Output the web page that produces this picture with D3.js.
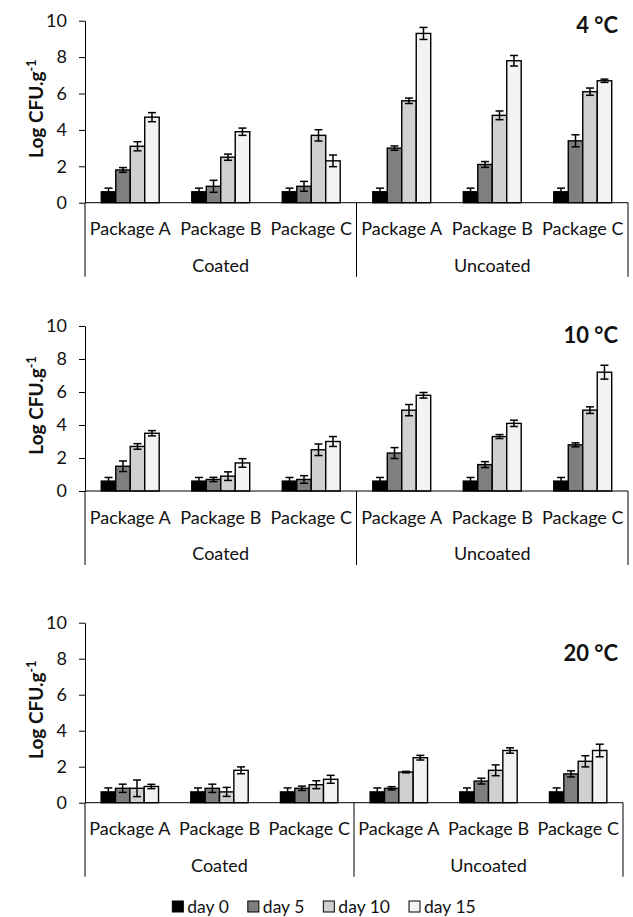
<!DOCTYPE html>
<html>
<head>
<meta charset="utf-8">
<script src="https://cdn.jsdelivr.net/npm/d3@7"></script>
<style>
  html, body { margin: 0; padding: 0; background: #fff; }
  svg { display: block; font-family: Lato, "Open Sans", sans-serif; }
</style>
</head>
<body>
<svg id="chart" width="633" height="917"></svg>
<script>
// ---------- data ----------
const temperatures = ["4 °C", "10 °C", "20 °C"];
const conditions = ["Coated", "Uncoated"];
const packages = ["Package A", "Package B", "Package C"];
const days = ["day 0", "day 5", "day 10", "day 15"];
const yTicks = [0, 2, 4, 6, 8, 10];

// rows: Coated A, B, C, Uncoated A, B, C ; columns: day 0, 5, 10, 15
const mean4C = [
  [0.6, 1.8, 3.1, 4.7],
  [0.6, 0.9, 2.5, 3.9],
  [0.6, 0.9, 3.7, 2.3],
  [0.6, 3.0, 5.6, 9.3],
  [0.6, 2.1, 4.8, 7.8],
  [0.6, 3.4, 6.1, 6.7]
];
const err4C = [
  [0.2, 0.13, 0.25, 0.25],
  [0.2, 0.33, 0.17, 0.2],
  [0.2, 0.27, 0.31, 0.32],
  [0.2, 0.12, 0.15, 0.33],
  [0.2, 0.16, 0.24, 0.29],
  [0.2, 0.33, 0.2, 0.09]
];
const mean10C = [
  [0.6, 1.5, 2.7, 3.5],
  [0.6, 0.7, 0.9, 1.7],
  [0.6, 0.7, 2.5, 3.0],
  [0.6, 2.3, 4.9, 5.8],
  [0.6, 1.6, 3.3, 4.1],
  [0.6, 2.8, 4.9, 7.2]
];
const err10C = [
  [0.22, 0.32, 0.17, 0.16],
  [0.22, 0.13, 0.26, 0.26],
  [0.22, 0.23, 0.35, 0.3],
  [0.22, 0.33, 0.34, 0.17],
  [0.22, 0.18, 0.12, 0.19],
  [0.22, 0.12, 0.2, 0.42]
];
const mean20C = [
  [0.6, 0.8, 0.8, 0.9],
  [0.6, 0.8, 0.6, 1.8],
  [0.6, 0.8, 1.0, 1.3],
  [0.6, 0.8, 1.7, 2.5],
  [0.6, 1.2, 1.8, 2.9],
  [0.6, 1.6, 2.3, 2.9]
];
const err20C = [
  [0.22, 0.23, 0.46, 0.12],
  [0.22, 0.23, 0.25, 0.19],
  [0.22, 0.12, 0.22, 0.22],
  [0.22, 0.09, 0.04, 0.13],
  [0.22, 0.16, 0.3, 0.15],
  [0.22, 0.17, 0.31, 0.35]
];
const means = [mean4C, mean10C, mean20C];
const errors = [err4C, err10C, err20C];

// ---------- layout / style ----------
const dayColors = ["#000000", "#7f7f7f", "#d0d0d0", "#f3f3f3"];
const panels = [
  { y10: 20.7, y0: 202.7, x0: 85, x1: 628, titleY: 24 },
  { y10: 326, y0: 491, x0: 85, x1: 628, titleY: 334 },
  { y10: 622.7, y0: 802.7, x0: 85, x1: 623, titleY: 652 }
];
const TEXT = "#111";
const FS = "18px";

const svg = d3.select("#chart");
const cats = [];
conditions.forEach(c => packages.forEach(p => cats.push(c + "|" + p)));

panels.forEach((P, pi) => {
  const g = svg.append("g");
  const y = d3.scaleLinear().domain([0, 10]).range([P.y0, P.y10]);
  const x = d3.scaleBand().domain(cats).range([P.x0, P.x1])
    .paddingInner(0.36).paddingOuter(0.18);
  const xs = d3.scaleBand().domain(days).range([0, x.bandwidth()]);

  // y axis
  const ya = g.append("g").attr("transform", `translate(${P.x0},0)`)
    .call(d3.axisLeft(y).tickValues(yTicks).tickSize(6).tickSizeOuter(0).tickPadding(12));
  ya.selectAll("path,line").attr("stroke", "#000").attr("stroke-width", 1);
  ya.selectAll("text").attr("fill", TEXT).style("font-size", FS)
    .style("font-family", "Lato, sans-serif");

  // bars
  const rows = means[pi].map((r, i) => ({ cat: cats[i], vals: r, errs: errors[pi][i] }));
  const cg = g.selectAll(".cat").data(rows).join("g")
    .attr("transform", d => `translate(${x(d.cat)},0)`);
  cg.selectAll("rect").data(d => d.vals.map((v, k) => ({ day: days[k], v, k })))
    .join("rect")
    .attr("x", d => xs(d.day))
    .attr("width", xs.bandwidth())
    .attr("y", d => y(d.v))
    .attr("height", d => y(0) - y(d.v))
    .attr("fill", d => dayColors[d.k])
    .attr("stroke", "#000").attr("stroke-width", 1.4);

  // error bars
  const eb = cg.selectAll(".eb").data(d => d.vals.map((v, k) => ({ day: days[k], v, e: d.errs[k] })))
    .join("g").attr("class", "eb")
    .attr("transform", d => `translate(${xs(d.day) + xs.bandwidth() / 2},0)`);
  eb.append("line").attr("x1", 0).attr("x2", 0)
    .attr("y1", d => y(d.v - d.e)).attr("y2", d => y(d.v + d.e));
  eb.append("line").attr("x1", -4).attr("x2", 4)
    .attr("y1", d => y(d.v + d.e)).attr("y2", d => y(d.v + d.e));
  eb.append("line").attr("x1", -4).attr("x2", 4)
    .attr("y1", d => y(d.v - d.e)).attr("y2", d => y(d.v - d.e));
  eb.selectAll("line").attr("stroke", "#000").attr("stroke-width", 1.5);

  // x axis line
  g.append("line").attr("x1", P.x0).attr("x2", P.x1)
    .attr("y1", y(0)).attr("y2", y(0)).attr("stroke", "#000").attr("stroke-width", 1);
  // dividers
  const mid = x(cats[3]) - x.step() * x.paddingOuter();
  [P.x0, mid, P.x1].forEach(xx => {
    g.append("line").attr("x1", xx).attr("x2", xx)
      .attr("y1", y(0)).attr("y2", y(0) + 74)
      .attr("stroke", "#000").attr("stroke-width", 1);
  });
  // package labels
  g.selectAll(".pk").data(cats).join("text")
    .attr("x", d => x(d) + x.bandwidth() / 2)
    .attr("y", y(0) + 25.5)
    .attr("text-anchor", "middle").attr("dominant-baseline", "central")
    .attr("fill", TEXT).style("font-size", FS)
    .text(d => d.split("|")[1]);
  // condition labels
  const bounds = [P.x0, mid, P.x1];
  conditions.forEach((c, i) => {
    g.append("text").attr("x", (bounds[i] + bounds[i + 1]) / 2)
      .attr("y", y(0) + 62)
      .attr("text-anchor", "middle").attr("dominant-baseline", "central")
      .attr("fill", TEXT).style("font-size", FS).text(c);
  });
  // title
  g.append("text").attr("x", 618).attr("y", P.titleY)
    .attr("text-anchor", "end").attr("dominant-baseline", "central")
    .attr("fill", TEXT).style("font-size", "22px").style("font-weight", "bold")
    .text(temperatures[pi]);
  // y label
  const cy = (P.y0 + P.y10) / 2 - 3;
  const yl = g.append("text").attr("transform", `translate(43,${cy}) rotate(-90)`)
    .attr("text-anchor", "middle").attr("fill", TEXT)
    .style("font-size", "19px").style("font-weight", "bold");
  yl.append("tspan").text("Log CFU.g");
  yl.append("tspan").attr("dy", -7).style("font-size", "12.5px").text("-1");
});

// legend
const lg = svg.append("g");
let lx = 0;
days.forEach((d, i) => {
  const it = lg.append("g").attr("transform", `translate(${lx},0)`);
  it.append("rect").attr("x", 0).attr("y", -5.5).attr("width", 11).attr("height", 11)
    .attr("fill", dayColors[i]).attr("stroke", "#000").attr("stroke-width", 1);
  const t = it.append("text").attr("x", 15).attr("y", 0)
    .attr("dominant-baseline", "central").attr("fill", TEXT)
    .style("font-size", "17.5px").text(d);
  lx += 15 + t.node().getComputedTextLength() + 19;
});
const lw = lx - 19;
lg.attr("transform", `translate(${324 - lw / 2},906.5)`);
</script>
</body>
</html>
